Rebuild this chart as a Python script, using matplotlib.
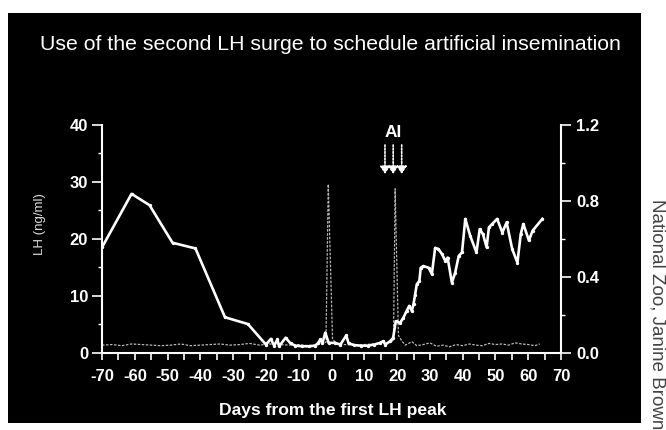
"""
Curva de LH y progestágenos alrededor de la inseminación artificial.
"""
import matplotlib
matplotlib.use('Agg')
import matplotlib.pyplot as plt
from matplotlib.patches import Rectangle
from matplotlib.ticker import MultipleLocator, FormatStrFormatter

# Serie continua (eje derecho)
dias_prog = [-70, -61, -55.5, -48.5, -41.5, -32.5, -25.5,
             -20, -18.5, -17.5, -16.5, -16,
             -14, -12.5, -11, -9, -7, -5,
             -4.2, -3.4, -2.8, -1.9, -0.9,
             1.1, 2.7, 4.5, 5.2, 7, 9, 11, 13,
             14.8, 15.8, 16.4, 17.9, 18.8, 19.6,
             20.9, 21.9, 22.9, 23.7, 24.5, 25.0, 25.5, 26.0,
             26.8, 27.2, 28.0, 29.6, 30.6, 31.6, 32.6, 33.7,
             34.7, 35.4, 36.7, 37.7, 38.8, 39.8, 40.8,
             42.3, 44.2, 45.2, 46.2, 47.3, 48.0, 49.0, 50.5,
             52.1, 53.4, 55.1, 56.7, 57.7, 58.5, 60.2, 61.3, 64.3]
prog = [0.555, 0.837, 0.777, 0.579, 0.549, 0.186, 0.150,
        0.042, 0.072, 0.036, 0.069, 0.033,
        0.078, 0.048, 0.036, 0.033, 0.033, 0.036,
        0.048, 0.069, 0.048, 0.105, 0.051,
        0.051, 0.042, 0.090, 0.048, 0.039, 0.036, 0.036, 0.042,
        0.051, 0.060, 0.042, 0.060, 0.078, 0.165,
        0.156, 0.183, 0.219, 0.246, 0.219, 0.255, 0.306, 0.360,
        0.378, 0.447, 0.456, 0.447, 0.414, 0.552, 0.546, 0.519,
        0.483, 0.501, 0.369, 0.420, 0.510, 0.528, 0.705,
        0.615, 0.528, 0.651, 0.624, 0.555, 0.660, 0.678, 0.705,
        0.633, 0.687, 0.546, 0.474, 0.624, 0.678, 0.591, 0.642, 0.705]

# LH (ng/ml), eje izquierdo
dias_lh = [-70, -67, -64, -61, -58, -55, -52, -49, -46, -43, -40, -37,
           -34, -31, -28, -25, -22, -19, -16, -13, -10, -7, -4, -1.7,
           -1.0, 0.3, 1.5, 4, 7, 10, 13, 16, 18, 18.9,
           19.4, 20.4, 21.5, 22.5, 23.5, 24.5, 26, 28, 30, 32, 34, 36,
           38, 40, 42, 44, 46, 48, 50, 52, 54, 56, 58, 60, 62, 63.5]
lh = [1.3, 1.4, 1.2, 1.5, 1.4, 1.3, 1.2, 1.3, 1.5, 1.2, 1.3, 1.4,
      1.5, 1.3, 1.4, 1.6, 1.3, 1.5, 1.4, 1.3, 1.4, 1.2, 1.4, 1.8,
      29.6, 2.4, 1.5, 1.4, 1.3, 1.4, 1.5, 1.6, 1.8, 2.2,
      28.8, 3.0, 2.0, 1.3, 1.6, 1.9, 1.2, 1.4, 1.7, 1.1, 1.3, 1.0,
      1.4, 1.2, 1.5, 1.3, 1.2, 1.6, 1.4, 1.5, 1.3, 1.7, 1.5, 1.4, 1.2, 1.5]

# Días de inseminación
dias_ia = [16.3, 18.8, 21.4]

x_ticks = list(range(-70, 71, 10))
lh_ticks = [0, 10, 20, 30, 40]
prog_ticks = [0.0, 0.4, 0.8, 1.2]

titulo = "Use of the second LH surge to schedule artificial insemination"
etiqueta_x = "Days from the first LH peak"
etiqueta_y = "LH (ng/ml)"
credito = "National Zoo, Janine Brown"

plt.rcParams['font.family'] = ['Liberation Sans', 'DejaVu Sans']
plt.rcParams['font.weight'] = 'bold'
plt.rcParams['axes.unicode_minus'] = False

fig = plt.figure(figsize=(6.66, 4.30), dpi=100)
fig.patch.set_facecolor('white')

# Fondo negro de la diapositiva
fig.add_artist(Rectangle((0.012, 0.016), 0.950, 0.954, transform=fig.transFigure,
                         facecolor='black', edgecolor='none', zorder=0))

ax = fig.add_axes([0.1532, 0.1802, 0.6892, 0.529])
ax.set_facecolor('none')
ax2 = ax.twinx()
ax2.set_facecolor('none')

# 1. Series
ax.plot(dias_lh, lh, color='#b8b8b8', lw=0.9, linestyle=(0, (2, 1.2)))
ax2.plot(dias_prog, prog, color='white', lw=1.9, marker='o', markersize=1.4)

ax.set_xlim(-70, 70)
ax.set_ylim(0, 40)
ax2.set_ylim(0, 1.2)

# 2. Ejes
for a in (ax, ax2):
    a.spines['top'].set_visible(False)
    for s in a.spines.values():
        s.set_color('white')
        s.set_linewidth(1.5)
ax.spines['right'].set_visible(False)
ax2.spines['left'].set_visible(False)
ax2.spines['bottom'].set_visible(False)

ax.set_xticks(x_ticks)
ax.xaxis.set_minor_locator(MultipleLocator(5))
ax.set_yticks(lh_ticks)
ax.yaxis.set_minor_locator(MultipleLocator(5))
ax2.set_yticks(prog_ticks)
ax2.yaxis.set_minor_locator(MultipleLocator(0.2))
ax2.yaxis.set_major_formatter(FormatStrFormatter('%.1f'))

ax.tick_params(axis='x', which='both', direction='out', length=5, width=1.2,
               colors='white', pad=7, labelsize=12)
ax.tick_params(axis='y', which='major', direction='out', length=7, width=1.2,
               colors='white', pad=3, labelsize=12)
ax.tick_params(axis='y', which='minor', direction='out', length=3, width=1.0,
               colors='white')
ax2.tick_params(axis='y', which='major', direction='out', length=7, width=1.2,
                colors='white', pad=4, labelsize=12)
ax2.tick_params(axis='y', which='minor', direction='out', length=3, width=1.0,
                colors='white')

# 3. Flechas de inseminación
for d in dias_ia:
    ax.annotate('', xy=(d, 31.4), xytext=(d, 36.5),
                arrowprops=dict(arrowstyle='-|>,head_width=0.3,head_length=0.45',
                                color='white', lw=1.2, linestyle=(0, (1, 1)),
                                shrinkA=0, shrinkB=0))
ax.text(dias_ia[1], 38.7, 'AI', color='white', fontsize=12.5, fontweight='bold',
        ha='center', va='center')

# 4. Textos
fig.text(330 / 666, 1 - 45 / 430, titulo, color='white', fontsize=15.3,
         fontweight='normal', ha='center', va='center')
fig.text(333 / 666, 1 - 410 / 430, etiqueta_x, color='white', fontsize=12.6,
         fontweight='bold', ha='center', va='center')
fig.text(40 / 666, 1 - 224 / 430, etiqueta_y, color='#dddddd', fontsize=9.5,
         fontweight='normal', rotation=90, ha='center', va='center')
fig.text(0.986, 1 - 199 / 430, credito, color='#444444', fontsize=13.5,
         fontweight='normal', rotation=270, ha='center', va='top')

fig.savefig('out.png', dpi=100, facecolor='white')
